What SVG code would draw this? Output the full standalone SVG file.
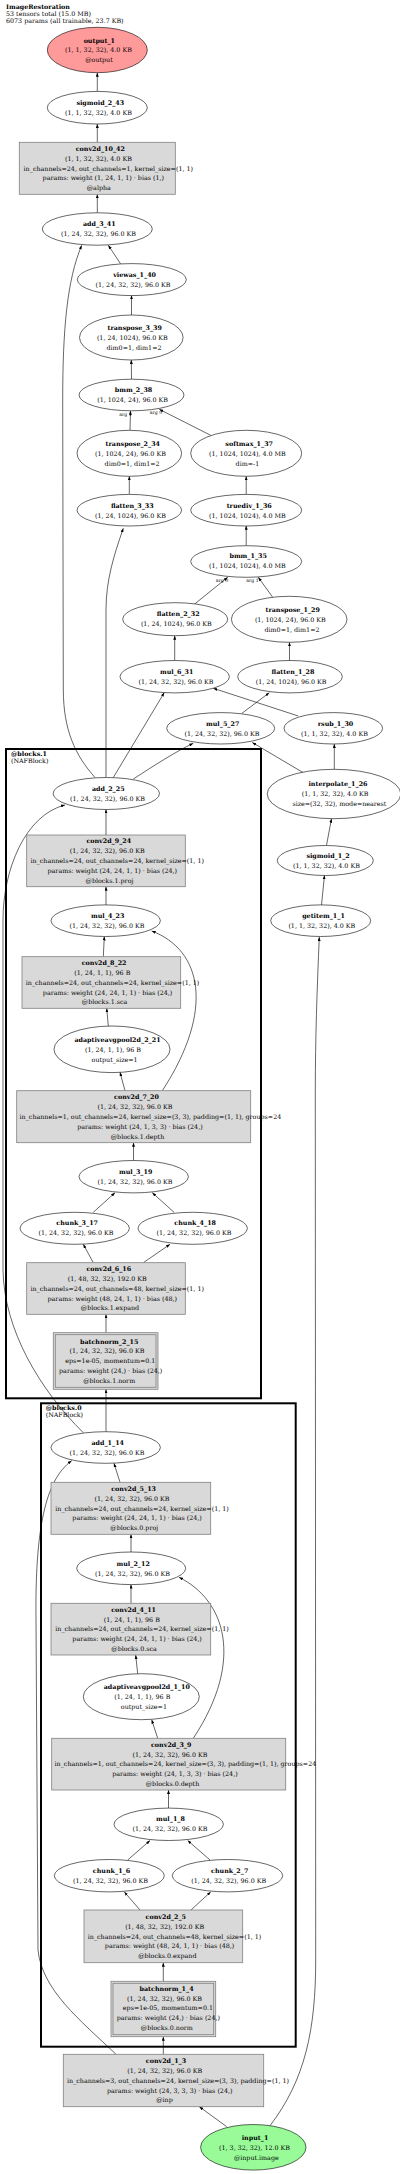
<svg xmlns="http://www.w3.org/2000/svg" width="400" height="2174" viewBox="0 0 400 2174">
<style>
text{font-family:"DejaVu Serif","Liberation Serif",serif;font-size:6.35px;fill:#000}
.t{text-anchor:middle}
.b{font-weight:bold}
.s{font-size:4.6px;text-anchor:middle}
.n{fill:#fff;stroke:#000;stroke-width:0.6}
.r{fill:#d9d9d9;stroke:#808080;stroke-width:0.8}
.ri{fill:none;stroke:#808080;stroke-width:0.8}
.c{fill:none;stroke:#000;stroke-width:2}
#edges path{fill:none;stroke:#000;stroke-width:0.6;marker-end:url(#ah)}
</style>
<defs>
<marker id="ah" markerUnits="userSpaceOnUse" markerWidth="4" markerHeight="3" refX="4" refY="1.5" orient="auto"><path d="M0,0 L4,1.5 L0,3 z" fill="#000"/></marker>
</defs>
<rect width="400" height="2174" fill="#fff"/>
<g id="title">
<text x="6" y="9" class="b">ImageRestoration</text>
<text x="6" y="16">53 tensors total (15.0 MB)</text>
<text x="6" y="23">6073 params (all trainable, 23.7 KB)</text>
</g>
<g id="cluster_blocks1"><rect x="6" y="749" width="255" height="649.3" class="c"/><text x="11" y="755.6" class="b">@blocks.1</text><text x="11" y="763.3">(NAFBlock)</text></g>
<g id="cluster_blocks0"><rect x="41" y="1403.3" width="254.7" height="643.4" class="c"/><text x="45.7" y="1409.6" class="b">@blocks.0</text><text x="45.7" y="1417.3">(NAFBlock)</text></g>
<g id="edges">
<path d="M97.3,91.4 L97.3,72.7"/>
<path d="M97.3,142.3 L97.3,124"/>
<path d="M97.3,212.8 L97.3,194.3"/>
<path d="M120.7,264 L108.3,245.3"/>
<path d="M95,777.5 C75,755 63.5,730 63.3,690 L62.7,400 C62.7,330 67,280 81.7,245.3"/>
<path d="M131.5,315 L131.5,295.3"/>
<path d="M131.5,379.2 L131.3,360"/>
<path d="M130,430.3 L130.5,410.8"/>
<path d="M210.7,435.3 L159.3,409.3"/>
<path d="M129.3,494.2 L129.3,476.3"/>
<path d="M246.2,494.2 L246.2,476.3"/>
<path d="M106,777.3 L106,610 C106,580 114,555 123.3,528.3"/>
<path d="M246.2,545.5 L246.2,525.8"/>
<path d="M194.3,604.3 L227.7,577.3"/>
<path d="M272.7,597.3 L258.3,577.3"/>
<path d="M174.7,660.5 L174.7,635.7"/>
<path d="M289.5,660.5 L289.5,642.3"/>
<path d="M241.7,713.5 L269.3,692.7"/>
<path d="M298.3,716 L213.3,688.3"/>
<path d="M113.3,777.5 L164.3,692.6"/>
<path d="M133.3,779 C155,765 175,752 193.3,743.3"/>
<path d="M303.3,772.7 L252.3,742.5"/>
<path d="M334.3,769.3 L334.3,744"/>
<path d="M326.5,845.3 L331.5,818.7"/>
<path d="M106,835 L106,809.3"/>
<path d="M83.3,1432.7 C40,1390 4,1330 3,1270 L3,920 C3,870 25,815 65,805"/>
<path d="M321.5,904.9 L324.5,875.3"/>
<path d="M106,904.9 L106,886.7"/>
<path d="M103.3,956.7 L104.3,936.5"/>
<path d="M108.3,1026 L106.7,1008.3"/>
<path d="M125,1090.7 L120,1072.3"/>
<path d="M162.3,1090.7 C215,1010 202,950 151.7,931"/>
<path d="M133.5,1160.5 L133.5,1142.7"/>
<path d="M93.3,1212.3 L115,1192.7"/>
<path d="M174,1212.3 L152.3,1192.7"/>
<path d="M93.3,1262.7 L83.3,1244.3"/>
<path d="M143.3,1262.7 L170,1244.3"/>
<path d="M106,1332.7 L106,1314.3"/>
<path d="M106,1431.7 L106,1389.3"/>
<path d="M120,1482.3 L114,1463.3"/>
<path d="M116,2054.3 C80,2020 42,1990 38,1950 L36,1620 C35,1530 45,1480 71.7,1460.7"/>
<path d="M131,1552 L131,1534.3"/>
<path d="M131,1603.3 L131,1584.6"/>
<path d="M193.3,1738.3 C245,1660 225,1600 179,1577.3"/>
<path d="M137.7,1673.7 L135.7,1655"/>
<path d="M157.7,1738.3 L151.7,1719.7"/>
<path d="M168.5,1808.1 L168.5,1790"/>
<path d="M127.7,1860 L150,1840.5"/>
<path d="M210,1860 L187.7,1840.5"/>
<path d="M140,1910 L124.3,1891.9"/>
<path d="M191,1910 L210.7,1891.9"/>
<path d="M163.3,1981.3 L163.3,1962.7"/>
<path d="M163.3,2054.3 L163.3,2036.7"/>
<path d="M226.7,2126.7 L199.3,2106.7"/>
<path d="M270,2125.7 C305,2080 315.7,2030 315.7,1960 L315.3,1090 C315.3,1040 317,990 319.3,937"/>
<text x="125.5" y="415.5" class="s">arg 1</text>
<text x="156" y="413.5" class="s">arg 0</text>
<text x="222" y="581.5" class="s">arg 0</text>
<text x="252.5" y="581.5" class="s">arg 1</text>
</g>
<g id="output_1"><ellipse cx="97.3" cy="50" rx="50" ry="22.7" class="n" fill="#ff9a9a" style="fill:#ff9a9a"/><text x="99.3" y="42.5" class="t b">output_1</text><text x="98.4" y="52.2" class="t">(1, 1, 32, 32), 4.0 KB</text><text x="99" y="62.2" class="t">@output</text></g>
<g id="sigmoid_2_43"><ellipse cx="97.3" cy="107.7" rx="50" ry="16.3" class="n"/><text x="100.3" y="104.7" class="t b">sigmoid_2_43</text><text x="98.4" y="114.7" class="t">(1, 1, 32, 32), 4.0 KB</text></g>
<g id="conv2d_10_42"><rect x="19.3" y="142.3" width="156" height="52" class="r"/><text x="100.3" y="150.9" class="t b">conv2d_10_42</text><text x="98.4" y="160.7" class="t">(1, 1, 32, 32), 4.0 KB</text><text x="108.3" y="170.5" class="t">in_channels=24, out_channels=1, kernel_size=(1, 1)</text><text x="103.3" y="180.3" class="t">params: weight (1, 24, 1, 1) · bias (1,)</text><text x="98.8" y="190.1" class="t">@alpha</text></g>
<g id="add_3_41"><ellipse cx="97.3" cy="229" rx="55" ry="16.2" class="n"/><text x="99.3" y="226" class="t b">add_3_41</text><text x="98.5" y="236" class="t">(1, 24, 32, 32), 96.0 KB</text></g>
<g id="viewas_1_40"><ellipse cx="131.8" cy="279.6" rx="54.5" ry="16" class="n"/><text x="134.6" y="276.5" class="t b">viewas_1_40</text><text x="133" y="286.5" class="t">(1, 24, 32, 32), 96.0 KB</text></g>
<g id="transpose_3_39"><ellipse cx="131.3" cy="337.5" rx="51.8" ry="22.5" class="n"/><text x="134.7" y="329.9" class="t b">transpose_3_39</text><text x="132.3" y="339.9" class="t">(1, 24, 1024), 96.0 KB</text><text x="134" y="349.9" class="t">dim0=1, dim1=2</text></g>
<g id="bmm_2_38"><ellipse cx="131.5" cy="395" rx="52.5" ry="15.8" class="n"/><text x="133.5" y="392.2" class="t b">bmm_2_38</text><text x="132.6" y="402.2" class="t">(1, 1024, 24), 96.0 KB</text></g>
<g id="transpose_2_34"><ellipse cx="129.3" cy="453.3" rx="52.3" ry="23" class="n"/><text x="132.8" y="445.5" class="t b">transpose_2_34</text><text x="130.4" y="455.5" class="t">(1, 1024, 24), 96.0 KB</text><text x="132.1" y="465.5" class="t">dim0=1, dim1=2</text></g>
<g id="softmax_1_37"><ellipse cx="246.2" cy="453.3" rx="55.5" ry="23" class="n"/><text x="249.2" y="445.5" class="t b">softmax_1_37</text><text x="247.4" y="455.5" class="t">(1, 1024, 1024), 4.0 MB</text><text x="247.4" y="465.5" class="t">dim=-1</text></g>
<g id="flatten_3_33"><ellipse cx="129.3" cy="510.2" rx="52.3" ry="15.8" class="n"/><text x="132.3" y="507.5" class="t b">flatten_3_33</text><text x="130.4" y="517.5" class="t">(1, 24, 1024), 96.0 KB</text></g>
<g id="truediv_1_36"><ellipse cx="246.2" cy="510.2" rx="55.5" ry="15.8" class="n"/><text x="249.2" y="507.5" class="t b">truediv_1_36</text><text x="247.4" y="517.5" class="t">(1, 1024, 1024), 4.0 MB</text></g>
<g id="bmm_1_35"><ellipse cx="246.2" cy="561.5" rx="55.5" ry="15.8" class="n"/><text x="248.2" y="558.2" class="t b">bmm_1_35</text><text x="247.4" y="568.2" class="t">(1, 1024, 1024), 4.0 MB</text></g>
<g id="flatten_2_32"><ellipse cx="175.2" cy="619.2" rx="52.5" ry="16.5" class="n"/><text x="178.2" y="616.2" class="t b">flatten_2_32</text><text x="176.3" y="626.2" class="t">(1, 24, 1024), 96.0 KB</text></g>
<g id="transpose_1_29"><ellipse cx="289.2" cy="619.3" rx="57.8" ry="23" class="n"/><text x="292.7" y="611.5" class="t b">transpose_1_29</text><text x="290.3" y="621.5" class="t">(1, 1024, 24), 96.0 KB</text><text x="292" y="631.5" class="t">dim0=1, dim1=2</text></g>
<g id="mul_6_31"><ellipse cx="174.7" cy="676.7" rx="54.7" ry="16.2" class="n"/><text x="176.7" y="673.9" class="t b">mul_6_31</text><text x="175.9" y="683.9" class="t">(1, 24, 32, 32), 96.0 KB</text></g>
<g id="flatten_1_28"><ellipse cx="290" cy="676.7" rx="52.3" ry="16.2" class="n"/><text x="293" y="673.9" class="t b">flatten_1_28</text><text x="291.1" y="683.9" class="t">(1, 24, 1024), 96.0 KB</text></g>
<g id="mul_5_27"><ellipse cx="220.7" cy="728.3" rx="54" ry="15.7" class="n"/><text x="222.7" y="725.5" class="t b">mul_5_27</text><text x="221.9" y="735.5" class="t">(1, 24, 32, 32), 96.0 KB</text></g>
<g id="rsub_1_30"><ellipse cx="333.3" cy="728.3" rx="49.3" ry="15.7" class="n"/><text x="335.5" y="725.5" class="t b">rsub_1_30</text><text x="334.4" y="735.5" class="t">(1, 1, 32, 32), 4.0 KB</text></g>
<g id="add_2_25"><ellipse cx="106.3" cy="793.5" rx="53.2" ry="16" class="n"/><text x="108.3" y="790.5" class="t b">add_2_25</text><text x="107.5" y="800.5" class="t">(1, 24, 32, 32), 96.0 KB</text></g>
<g id="interpolate_1_26"><ellipse cx="334" cy="794" rx="66.8" ry="24.7" class="n"/><text x="338" y="786.2" class="t b">interpolate_1_26</text><text x="335.1" y="796.2" class="t">(1, 1, 32, 32), 4.0 KB</text><text x="339.4" y="806.2" class="t">size=(32, 32), mode=nearest</text></g>
<g id="sigmoid_1_2"><ellipse cx="325.3" cy="860.5" rx="48" ry="15" class="n"/><text x="328.1" y="857.9" class="t b">sigmoid_1_2</text><text x="326.4" y="867.9" class="t">(1, 1, 32, 32), 4.0 KB</text></g>
<g id="conv2d_9_24"><rect x="26.7" y="835" width="158.6" height="51.7" class="r"/><text x="108.8" y="843.4" class="t b">conv2d_9_24</text><text x="107.2" y="853.2" class="t">(1, 24, 32, 32), 96.0 KB</text><text x="117.2" y="863" class="t">in_channels=24, out_channels=24, kernel_size=(1, 1)</text><text x="112.3" y="872.8" class="t">params: weight (24, 24, 1, 1) · bias (24,)</text><text x="109.5" y="882.6" class="t">@blocks.1.proj</text></g>
<g id="mul_4_23"><ellipse cx="105.7" cy="920.7" rx="54.7" ry="15.8" class="n"/><text x="107.7" y="917.9" class="t b">mul_4_23</text><text x="106.9" y="927.9" class="t">(1, 24, 32, 32), 96.0 KB</text></g>
<g id="getitem_1_1"><ellipse cx="320.7" cy="920.7" rx="50" ry="15.8" class="n"/><text x="323.5" y="917.9" class="t b">getitem_1_1</text><text x="321.8" y="927.9" class="t">(1, 1, 32, 32), 4.0 KB</text></g>
<g id="conv2d_8_22"><rect x="22" y="956.7" width="158.7" height="51.6" class="r"/><text x="104.1" y="965.1" class="t b">conv2d_8_22</text><text x="102.3" y="974.9" class="t">(1, 24, 1, 1), 96 B</text><text x="112.5" y="984.7" class="t">in_channels=24, out_channels=24, kernel_size=(1, 1)</text><text x="107.6" y="994.5" class="t">params: weight (24, 24, 1, 1) · bias (24,)</text><text x="104.6" y="1004.3" class="t">@blocks.1.sca</text></g>
<g id="adaptiveavgpool2d_2_21"><ellipse cx="112" cy="1049.3" rx="58" ry="23.3" class="n"/><text x="117.5" y="1041.5" class="t b">adaptiveavgpool2d_2_21</text><text x="113" y="1051.5" class="t">(1, 24, 1, 1), 96 B</text><text x="114.6" y="1061.5" class="t">output_size=1</text></g>
<g id="conv2d_7_20"><rect x="16.7" y="1090.7" width="234" height="52" class="r"/><text x="136.5" y="1099.3" class="t b">conv2d_7_20</text><text x="134.9" y="1109.1" class="t">(1, 24, 32, 32), 96.0 KB</text><text x="150.4" y="1118.9" class="t">in_channels=1, out_channels=24, kernel_size=(3, 3), padding=(1, 1), groups=24</text><text x="139.9" y="1128.7" class="t">params: weight (24, 1, 3, 3) · bias (24,)</text><text x="137.5" y="1138.5" class="t">@blocks.1.depth</text></g>
<g id="mul_3_19"><ellipse cx="133.7" cy="1176.7" rx="54.7" ry="16.2" class="n"/><text x="135.7" y="1173.9" class="t b">mul_3_19</text><text x="134.9" y="1183.9" class="t">(1, 24, 32, 32), 96.0 KB</text></g>
<g id="chunk_3_17"><ellipse cx="74.7" cy="1228.3" rx="54.7" ry="16" class="n"/><text x="77.2" y="1224.9" class="t b">chunk_3_17</text><text x="75.9" y="1234.9" class="t">(1, 24, 32, 32), 96.0 KB</text></g>
<g id="chunk_4_18"><ellipse cx="192.7" cy="1228.3" rx="54.7" ry="16" class="n"/><text x="195.2" y="1224.9" class="t b">chunk_4_18</text><text x="193.9" y="1234.9" class="t">(1, 24, 32, 32), 96.0 KB</text></g>
<g id="conv2d_6_16"><rect x="26.7" y="1262.7" width="158.6" height="51.6" class="r"/><text x="108.8" y="1271.1" class="t b">conv2d_6_16</text><text x="107.3" y="1280.9" class="t">(1, 48, 32, 32), 192.0 KB</text><text x="117.2" y="1290.7" class="t">in_channels=24, out_channels=48, kernel_size=(1, 1)</text><text x="112.3" y="1300.5" class="t">params: weight (48, 24, 1, 1) · bias (48,)</text><text x="110" y="1310.3" class="t">@blocks.1.expand</text></g>
<g id="batchnorm_2_15"><rect x="53.3" y="1332.7" width="104.7" height="56.6" class="r"/><rect x="55.3" y="1334.7" width="100.7" height="52.6" class="ri"/><text x="109.2" y="1343.6" class="t b">batchnorm_2_15</text><text x="106.9" y="1353.4" class="t">(1, 24, 32, 32), 96.0 KB</text><text x="110.3" y="1363.2" class="t">eps=1e-05, momentum=0.1</text><text x="110.7" y="1373" class="t">params: weight (24,) · bias (24,)</text><text x="109.2" y="1382.8" class="t">@blocks.1.norm</text></g>
<g id="add_1_14"><ellipse cx="105.7" cy="1447.5" rx="54.7" ry="15.8" class="n"/><text x="107.7" y="1444.5" class="t b">add_1_14</text><text x="106.9" y="1454.5" class="t">(1, 24, 32, 32), 96.0 KB</text></g>
<g id="conv2d_5_13"><rect x="51" y="1482.3" width="159.7" height="52" class="r"/><text x="133.6" y="1490.9" class="t b">conv2d_5_13</text><text x="132" y="1500.7" class="t">(1, 24, 32, 32), 96.0 KB</text><text x="142" y="1510.5" class="t">in_channels=24, out_channels=24, kernel_size=(1, 1)</text><text x="137.1" y="1520.3" class="t">params: weight (24, 24, 1, 1) · bias (24,)</text><text x="134.3" y="1530.1" class="t">@blocks.0.proj</text></g>
<g id="mul_2_12"><ellipse cx="131.2" cy="1568.3" rx="54.5" ry="16.3" class="n"/><text x="133.2" y="1565.5" class="t b">mul_2_12</text><text x="132.4" y="1575.5" class="t">(1, 24, 32, 32), 96.0 KB</text></g>
<g id="conv2d_4_11"><rect x="51" y="1603.3" width="159.7" height="51.7" class="r"/><text x="133.6" y="1611.8" class="t b">conv2d_4_11</text><text x="131.8" y="1621.6" class="t">(1, 24, 1, 1), 96 B</text><text x="142" y="1631.4" class="t">in_channels=24, out_channels=24, kernel_size=(1, 1)</text><text x="137.1" y="1641.2" class="t">params: weight (24, 24, 1, 1) · bias (24,)</text><text x="134.1" y="1651" class="t">@blocks.0.sca</text></g>
<g id="adaptiveavgpool2d_1_10"><ellipse cx="141.3" cy="1696.7" rx="58" ry="23" class="n"/><text x="146.8" y="1688.9" class="t b">adaptiveavgpool2d_1_10</text><text x="142.3" y="1698.9" class="t">(1, 24, 1, 1), 96 B</text><text x="143.9" y="1708.9" class="t">output_size=1</text></g>
<g id="conv2d_3_9"><rect x="51.7" y="1738.3" width="234" height="51.7" class="r"/><text x="171.2" y="1746.8" class="t b">conv2d_3_9</text><text x="169.9" y="1756.6" class="t">(1, 24, 32, 32), 96.0 KB</text><text x="185.4" y="1766.4" class="t">in_channels=1, out_channels=24, kernel_size=(3, 3), padding=(1, 1), groups=24</text><text x="174.9" y="1776.2" class="t">params: weight (24, 1, 3, 3) · bias (24,)</text><text x="172.5" y="1786" class="t">@blocks.0.depth</text></g>
<g id="mul_1_8"><ellipse cx="168.7" cy="1824.3" rx="54.7" ry="16.2" class="n"/><text x="170.5" y="1821.2" class="t b">mul_1_8</text><text x="169.9" y="1831.2" class="t">(1, 24, 32, 32), 96.0 KB</text></g>
<g id="chunk_1_6"><ellipse cx="109.3" cy="1875.7" rx="55" ry="16.2" class="n"/><text x="111.5" y="1872.9" class="t b">chunk_1_6</text><text x="110.5" y="1882.9" class="t">(1, 24, 32, 32), 96.0 KB</text></g>
<g id="chunk_2_7"><ellipse cx="227.5" cy="1875.7" rx="55.2" ry="16.2" class="n"/><text x="229.7" y="1872.9" class="t b">chunk_2_7</text><text x="228.7" y="1882.9" class="t">(1, 24, 32, 32), 96.0 KB</text></g>
<g id="conv2d_2_5"><rect x="84" y="1910" width="158.7" height="52.7" class="r"/><text x="165.8" y="1918.9" class="t b">conv2d_2_5</text><text x="164.6" y="1928.7" class="t">(1, 48, 32, 32), 192.0 KB</text><text x="174.5" y="1938.5" class="t">in_channels=24, out_channels=48, kernel_size=(1, 1)</text><text x="169.6" y="1948.3" class="t">params: weight (48, 24, 1, 1) · bias (48,)</text><text x="167.3" y="1958.1" class="t">@blocks.0.expand</text></g>
<g id="batchnorm_1_4"><rect x="111" y="1981.3" width="104.7" height="55.4" class="r"/><rect x="113" y="1983.3" width="100.7" height="51.4" class="ri"/><text x="166.6" y="1990.8" class="t b">batchnorm_1_4</text><text x="164.5" y="2000.6" class="t">(1, 24, 32, 32), 96.0 KB</text><text x="167.9" y="2010.4" class="t">eps=1e-05, momentum=0.1</text><text x="168.3" y="2020.2" class="t">params: weight (24,) · bias (24,)</text><text x="166.8" y="2030" class="t">@blocks.0.norm</text></g>
<g id="conv2d_1_3"><rect x="63.3" y="2054.3" width="200.4" height="52.4" class="r"/><text x="166" y="2063.1" class="t b">conv2d_1_3</text><text x="164.7" y="2072.9" class="t">(1, 24, 32, 32), 96.0 KB</text><text x="178" y="2082.7" class="t">in_channels=3, out_channels=24, kernel_size=(3, 3), padding=(1, 1)</text><text x="169.7" y="2092.5" class="t">params: weight (24, 3, 3, 3) · bias (24,)</text><text x="164.5" y="2102.3" class="t">@inp</text></g>
<g id="input_1"><ellipse cx="253.3" cy="2147.3" rx="52.7" ry="22.8" class="n" style="fill:#98fb98"/><text x="255" y="2139.5" class="t b">input_1</text><text x="254.5" y="2149.5" class="t">(1, 3, 32, 32), 12.0 KB</text><text x="256.3" y="2159.5" class="t">@input.image</text></g>
</svg>
